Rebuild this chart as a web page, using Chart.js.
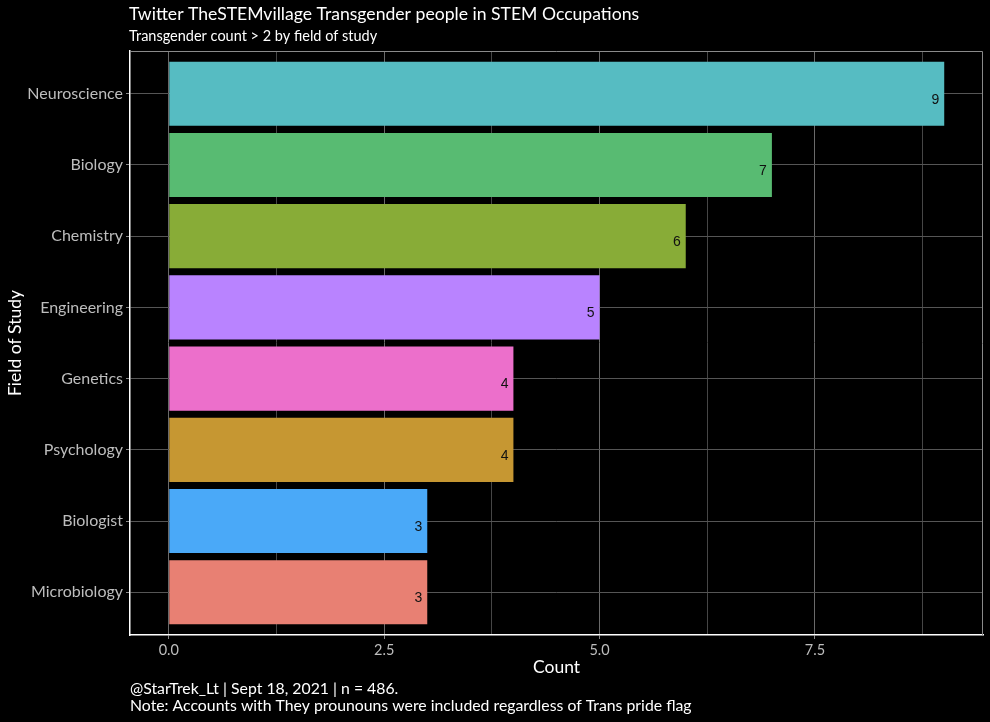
<!DOCTYPE html>
<html>
<head>
<meta charset="utf-8">
<script src="https://cdn.jsdelivr.net/npm/chart.js@4/dist/chart.umd.min.js"></script>
<style>
  html, body { margin: 0; padding: 0; background: #000; }
  #wrap { width: 990px; height: 722px; }
</style>
</head>
<body>
<div id="wrap"><canvas id="canvas" width="990" height="722"></canvas></div>
<script>
// fields top to bottom
var fields = ['Neuroscience', 'Biology', 'Chemistry', 'Engineering', 'Genetics', 'Psychology', 'Biologist', 'Microbiology'];
var counts = [9, 7, 6, 5, 4, 4, 3, 3];
var barColors = ['#56BCC2', '#58BB72', '#88AC37', '#B983FF', '#EC6FCB', '#C69732', '#4AA9F8', '#E88073'];
var xTickValues = [0, 1.25, 2.5, 3.75, 5, 6.25, 7.5, 8.75];

var titleText = 'Twitter TheSTEMvillage Transgender people in STEM Occupations';
var subtitleText = 'Transgender count > 2 by field of study';
var captionLines = ['@StarTrek_Lt | Sept 18, 2021 | n = 486.', 'Note: Accounts with They prounouns were included regardless of Trans pride flag'];

var FONT = 'Lato, "Open Sans", sans-serif';

function isMajor(v) {
	return Math.abs(v / 2.5 - Math.round(v / 2.5)) < 1e-6;
}

var textLayer = {
	id: 'textLayer',
	beforeDatasetsDraw: function(chart) {
		var c = chart.ctx, a = chart.chartArea;
		c.save();
		c.strokeStyle = '#8a8a8a';
		c.lineWidth = 1;
		c.beginPath();
		c.moveTo(a.left, a.top + 0.5);
		c.lineTo(a.right - 0.5, a.top + 0.5);
		c.lineTo(a.right - 0.5, a.bottom);
		c.stroke();
		c.restore();
	},
	afterDatasetsDraw: function(chart) {
		var c = chart.ctx;
		var meta = chart.getDatasetMeta(0);
		c.save();
		c.fillStyle = '#111';
		c.font = '14px "Liberation Sans", Arial, sans-serif';
		c.textAlign = 'right';
		c.textBaseline = 'middle';
		meta.data.forEach(function(bar, i) {
			c.fillText(String(counts[i]), bar.x - 5, bar.y + 6);
		});
		c.restore();
	},
	afterDraw: function(chart) {
		var c = chart.ctx, a = chart.chartArea;
		c.save();
		c.fillStyle = '#fff';
		c.textBaseline = 'middle';
		c.textAlign = 'left';
		c.font = '17.6px ' + FONT;
		c.fillText(titleText, a.left - 1, 14);
		c.font = '14.5px ' + FONT;
		c.fillText(subtitleText, a.left - 1, 36);
		c.font = '15.8px ' + FONT;
		c.fillText(captionLines[0], a.left, 689);
		c.fillText(captionLines[1], a.left, 706);
		c.textAlign = 'center';
		c.font = '17.5px ' + FONT;
		c.fillText('Count', (a.left + a.right) / 2, 667);
		c.translate(15, (a.top + a.bottom) / 2);
		c.rotate(-Math.PI / 2);
		c.fillText('Field of Study', 0, 0);
		c.restore();
	}
};

window.onload = function() {
	var ctx = document.getElementById('canvas').getContext('2d');
	window.myBar = new Chart(ctx, {
		type: 'bar',
		data: {
			datasets: [{
				label: 'Count',
				data: counts.map(function(v, i) { return { x: v, y: i }; }),
				backgroundColor: barColors,
				borderWidth: 0,
				categoryPercentage: 0.9,
				barPercentage: 1
			}]
		},
		options: {
			indexAxis: 'y',
			responsive: false,
			animation: false,
			events: [],
			layout: { padding: { left: 0, top: 51, right: 7, bottom: 0 } },
			plugins: {
				legend: { display: false },
				title: { display: false },
				tooltip: { enabled: false }
			},
			scales: {
				x: {
					type: 'linear',
					min: -0.45,
					max: 9.45,
					afterBuildTicks: function(scale) {
						scale.ticks = xTickValues.map(function(v) { return { value: v }; });
					},
					afterFit: function(scale) { scale.height = 87; },
					grid: {
						color: function(c) { return c.tick && isMajor(c.tick.value) ? '#6a6a6a' : '#464646'; },
						tickColor: function(c) { return c.tick && isMajor(c.tick.value) ? '#8a8a8a' : 'rgba(0,0,0,0)'; },
						tickLength: 4,
						lineWidth: 1
					},
					border: { color: '#ffffff', width: 1.5 },
					ticks: {
						color: '#bdbdbd',
						font: { family: FONT, size: 14.5 },
						padding: 3,
						maxRotation: 0,
						autoSkip: false,
						callback: function(v) { return isMajor(v) ? v.toFixed(1) : ''; }
					}
				},
				y: {
					type: 'linear',
					reverse: true,
					offset: false,
					min: -0.6,
					max: 7.6,
					afterBuildTicks: function(scale) {
						scale.ticks = fields.map(function(f, i) { return { value: i }; });
					},
					afterFit: function(scale) { scale.width = 130; },
					grid: {
						offset: false,
						color: '#555555',
						tickColor: '#8a8a8a',
						tickLength: 4,
						lineWidth: 1
					},
					border: { color: '#ffffff', width: 1.5 },
					ticks: {
						color: '#bdbdbd',
						font: { family: FONT, size: 16 },
						padding: 3,
						autoSkip: false,
						callback: function(v) { return fields[v]; }
					}
				}
			}
		},
		plugins: [textLayer]
	});
};
</script>
</body>
</html>
